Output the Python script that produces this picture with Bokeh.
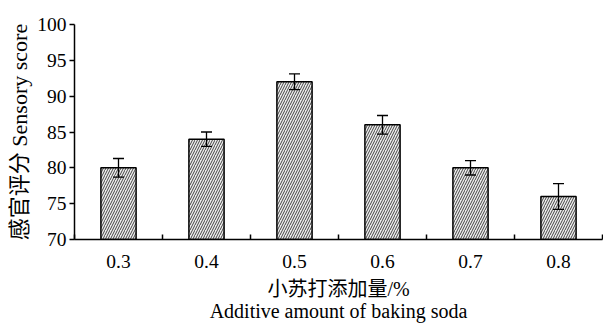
from bokeh.plotting import figure
from bokeh.models import Range1d, FixedTicker, Whisker, ColumnDataSource
from bokeh.embed import file_html
from bokeh.resources import INLINE

# Sensory score versus amount of baking soda added
categories = ["0.3", "0.4", "0.5", "0.6", "0.7", "0.8"]
scores = [80, 84, 92, 86, 80, 76]
errors = [1.3, 1.0, 1.1, 1.3, 1.0, 1.8]
y_ticks = [70, 75, 80, 85, 90, 95, 100]

pos = list(range(1, len(categories) + 1))
src = ColumnDataSource(dict(
    x=pos, top=scores,
    upper=[s + e for s, e in zip(scores, errors)],
    lower=[s - e for s, e in zip(scores, errors)],
))

SERIF = "Liberation Serif, 'Noto Sans CJK SC', serif"

p = figure(width=603, height=324, output_backend="svg", toolbar_location=None,
           x_range=Range1d(0.5, len(categories) + 0.5), y_range=Range1d(70, 100),
           min_border_left=74, min_border_right=1, min_border_top=24,
           min_border_bottom=83)
p.outline_line_color = None
p.grid.grid_line_color = None
p.background_fill_color = "white"

p.vbar(x="x", top="top", bottom=70, width=0.4, source=src,
       fill_color="#eeeeee", line_color="black", line_width=1.5,
       hatch_pattern="/", hatch_color="#444444", hatch_scale=5, hatch_weight=1)

# error bars drawn on top of the bars
w = Whisker(source=src, base="x", upper="upper", lower="lower",
            line_color="black", line_width=1.3, level="overlay")
w.upper_head.size = 11
w.lower_head.size = 11
w.upper_head.line_width = 1.3
w.lower_head.line_width = 1.3
p.add_layout(w)

# x axis: labels under bars, small tick marks between bars
xa = p.xaxis[0]
xa.ticker = FixedTicker(ticks=pos, minor_ticks=[i + 0.5 for i in range(len(categories) + 1)])
xa.major_label_overrides = {i: c for i, c in zip(pos, categories)}
xa.major_tick_line_color = None
xa.minor_tick_in = 5
xa.minor_tick_out = 0
xa.minor_tick_line_width = 1.5
xa.axis_line_width = 1.5
xa.major_label_text_font = SERIF
xa.major_label_text_font_size = "19.5px"
xa.major_label_text_color = "black"
xa.major_label_standoff = 9
xa.axis_label = "小苏打添加量/%\nAdditive amount of baking soda"
xa.axis_label_text_font = SERIF
xa.axis_label_text_font_size = "20px"
xa.axis_label_text_line_height = 1.0
xa.axis_label_text_font_style = "normal"
xa.axis_label_text_color = "black"
xa.axis_label_standoff = 7

ya = p.yaxis[0]
ya.ticker = FixedTicker(ticks=y_ticks, minor_ticks=[])
ya.major_tick_out = 5
ya.major_tick_in = 0
ya.major_tick_line_width = 1.5
ya.axis_line_width = 1.5
ya.major_label_text_font = SERIF
ya.major_label_text_font_size = "19.5px"
ya.major_label_text_color = "black"
ya.major_label_standoff = 3
ya.axis_label = "感官评分 Sensory score"
ya.axis_label_text_font = SERIF
ya.axis_label_text_font_size = "22px"
ya.axis_label_text_font_style = "normal"
ya.axis_label_text_color = "black"
ya.axis_label_standoff = 2

open("out.html", "w").write(file_html(p, INLINE))
